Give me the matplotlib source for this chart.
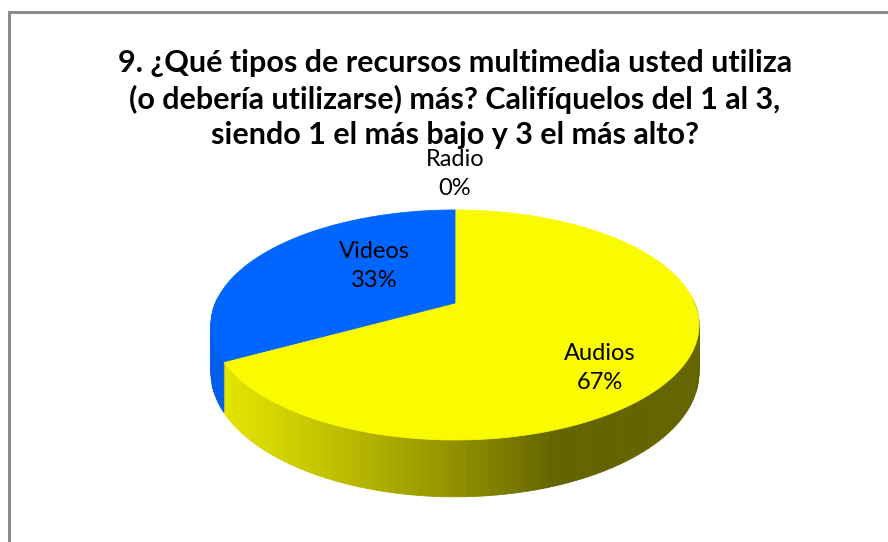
import numpy as np
import matplotlib
matplotlib.use("Agg")
import matplotlib.pyplot as plt
from matplotlib.patches import Polygon

# survey answers, question 9
categories = ["Audios", "Videos", "Radio"]
percents = [67, 33, 0]
top_colors = ["#fafa00", "#0066ff", "#ff3333"]

title = ("9. ¿Qué tipos de recursos multimedia usted utiliza\n"
         "(o debería utilizarse) más? Califíquelos del 1 al 3,\n"
         "siendo 1 el más bajo y 3 el más alto?")

# layout of the 3d disc, in pixels
W, H = 888, 542
cx, cy = 455, 303        # projected centre of the disc
A, B = 239.5, 110.8      # horizontal / vertical radius
k = 0.191                # perspective foreshortening
depth = 46               # thickness of the disc
label_pos = [(600, 368), (374, 266), (455, 174)]


def project(phi, drop=0.0):
    x, y = np.cos(phi), np.sin(phi)
    d = 1 + k * y
    return cx + A * x / d, cy - B * y / d + drop / d


def side_shade(phi):
    # light comes from the front-left
    lit = max(0.0, np.cos(phi - np.radians(200)))
    return 0.40 + 0.52 * lit


fig = plt.figure(figsize=(W / 100, H / 100), dpi=100)
ax = fig.add_axes([0, 0, 1, 1])
ax.set_xlim(0, W)
ax.set_ylim(H, 0)
ax.axis("off")

# slices run clockwise from 12 o'clock
fracs = np.array(percents) / sum(percents)
ends = np.radians(90 - 360 * np.cumsum(fracs))
starts = np.concatenate([[np.radians(90)], ends[:-1]])

# side wall, front half only
for s, e, col in zip(starts, ends, top_colors):
    if e == s:
        continue
    lo, hi = min(s, e), max(s, e)
    steps = max(2, int(np.degrees(hi - lo) / 1.5))
    grid = np.linspace(lo, hi, steps + 1)
    rgb = np.array(matplotlib.colors.to_rgb(col))
    for a0, a1 in zip(grid[:-1], grid[1:]):
        mid = (a0 + a1) / 2
        if np.sin(mid) > 0.05:
            continue
        pts = [project(a0), project(a1), project(a1, depth), project(a0, depth)]
        c = np.clip(rgb * side_shade(mid), 0, 1)
        ax.add_patch(Polygon(pts, closed=True, facecolor=c, edgecolor=c,
                             linewidth=0.6))

# top face
for s, e, col in zip(starts, ends, top_colors):
    if e == s:
        continue
    grid = np.linspace(s, e, 200)
    pts = [(cx, cy)] + [project(a) for a in grid]
    ax.add_patch(Polygon(pts, closed=True, facecolor=col, edgecolor=col,
                         linewidth=0.6))

for name, pct, (lx, ly) in zip(categories, percents, label_pos):
    ax.text(lx, ly, f"{name}\n{pct}%", ha="center", va="center",
            fontsize=17, family="Lato", linespacing=1.5, color="black")

ax.text(455, 99, title, ha="center", va="center", fontsize=22,
        family="Lato", fontweight="bold", linespacing=1.3)

# chart frame (only the top and left edges fall inside the image)
ax.plot([9, 9, W + 5], [H + 5, 11.5, 11.5], color="#8c8c8c", linewidth=2.2,
        solid_joinstyle="miter")

fig.savefig("out.png", dpi=100)
